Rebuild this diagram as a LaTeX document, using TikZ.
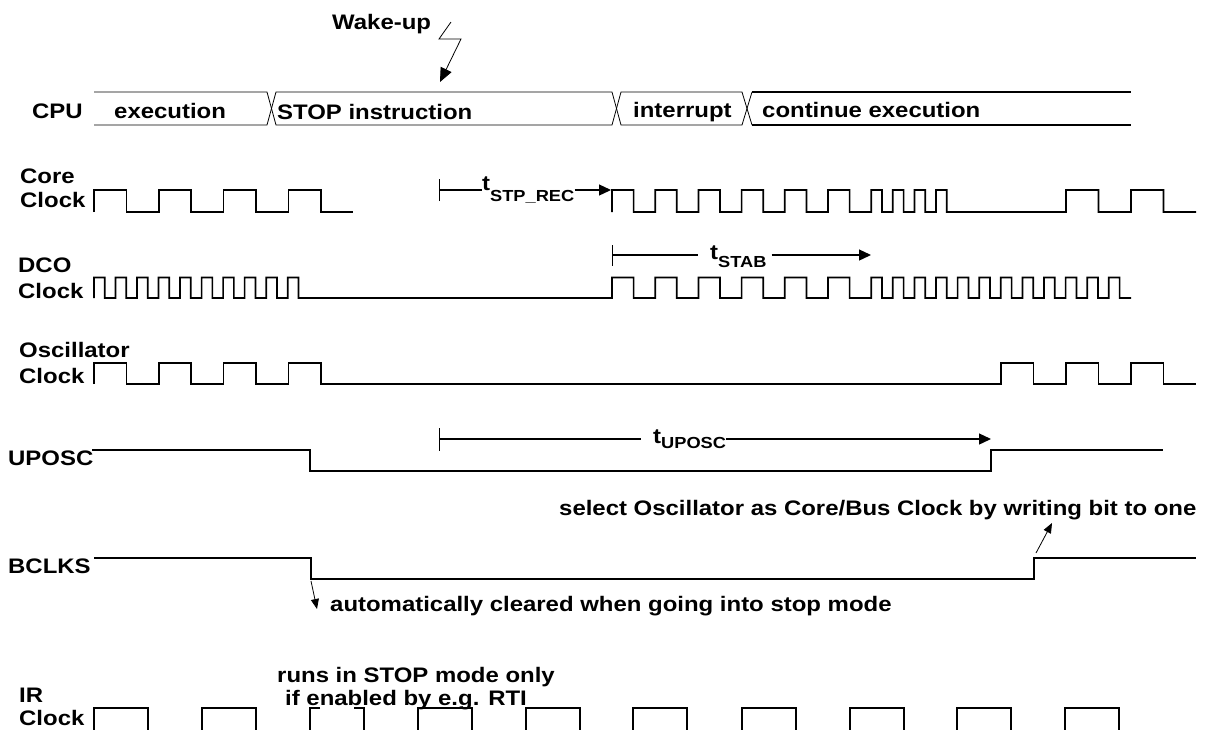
\documentclass[tikz,border=0pt]{standalone}
\usepackage{fontspec}
\setmainfont{Liberation Sans}[FakeStretch=1.14]
\usetikzlibrary{arrows.meta}
\newcommand\tsb[2]{\raisebox{-#1pt}{\fontsize{16}{16}\selectfont #2}}
\begin{document}
\begin{tikzpicture}[x=1pt,y=-1pt,
  lbl/.style={anchor=base west, inner sep=0pt, font=\fontsize{21}{24}\selectfont\bfseries},
  wave/.style={line width=1.7pt, line join=miter},
  bus/.style={line width=0.8pt},
  busthick/.style={line width=1.6pt},
  timing/.style={line width=1.3pt},
  endtri/.style={-{Triangle[length=12pt,width=11pt]}},
  smallarrow/.style={line width=0.8pt,-{Triangle[length=10pt,width=8pt]}}]
\useasboundingbox[fill=white] (0,0) rectangle (1226,729);

% ---------- Wake-up ----------
\node[lbl] (wake) at (332,29) {Wake-up};
\coordinate (wk1) at (451,22);
\coordinate (wk2) at (439,39);
\coordinate (wk3) at (461,39);
\coordinate (wk4) at (440,82);
\draw[line width=0.8pt,-{Triangle[length=14pt,width=12pt]}] (wk1) -- (wk2) -- (wk3) -- (wk4);

% ---------- CPU bus ----------
\node[lbl] (cpu) at (32,118) {CPU};
\draw[bus] (94,92) -- (267,92) -- (276,125) -- (612,125) -- (621,92) -- (742,92) -- (752,125);
\draw[bus] (94,125) -- (267,125) -- (276,92) -- (612,92) -- (621,125) -- (742,125) -- (752,92);
\draw[busthick] (752,92) -- (1131,92);
\draw[busthick] (752,125) -- (1131,125);
\node[lbl] (exe) at (114,118) {execution};
\node[lbl] (stop) at (277,119) {STOP instruction};
\node[lbl] (intr) at (633,117) {interrupt};
\node[lbl] (cont) at (762,117) {continue execution};

% ---------- Core Clock ----------
\node[lbl] (core1) at (20,183) {Core};
\node[lbl] (core2) at (20,207) {Clock};
\draw[wave] (94,212) foreach \i in {0,...,3} { -- ({94+64.8*\i},190) -- ({126.4+64.8*\i},190) -- ({126.4+64.8*\i},212) -- ({158.8+64.8*\i},212) };
\draw[wave] (612,212)
  foreach \i in {0,...,5} { -- ({612+43.2*\i},190) -- ({633.6+43.2*\i},190) -- ({633.6+43.2*\i},212) -- ({655.2+43.2*\i},212) }
  foreach \i in {0,...,3} { -- ({871.2+21.6*\i},190) -- ({882+21.6*\i},190) -- ({882+21.6*\i},212) -- ({892.8+21.6*\i},212) }
  -- (1066,212)
  foreach \i in {0,1} { -- ({1066+65*\i},190) -- ({1098.5+65*\i},190) -- ({1098.5+65*\i},212) -- ({1131+65*\i},212) };

% t_STP_REC
\coordinate (stpA) at (439,190);
\coordinate (stpB) at (611,190);
\node[lbl] (stpT) at (482,190) {t\tsb{11}{STP\_REC}};
\draw[timing,{Bar[width=22pt,line width=1.3pt]}-] (stpA) -- (stpT.west |- stpA);
\draw[timing,endtri] (stpT.east |- stpB) -- (stpB);

% ---------- DCO Clock ----------
\node[lbl] (dco1) at (18,272) {DCO};
\node[lbl] (dco2) at (18,298) {Clock};
\draw[wave] (94,298)
  foreach \i in {0,...,9} { -- ({94+21.52*\i},277.5) -- ({104.76+21.52*\i},277.5) -- ({104.76+21.52*\i},298) -- ({115.52+21.52*\i},298) }
  -- (612,298)
  foreach \i in {0,...,5} { -- ({612+43.2*\i},277.5) -- ({633.6+43.2*\i},277.5) -- ({633.6+43.2*\i},298) -- ({655.2+43.2*\i},298) }
  foreach \i in {0,...,11} { -- ({871.2+21.6*\i},277.5) -- ({882+21.6*\i},277.5) -- ({882+21.6*\i},298) -- ({892.8+21.6*\i},298) }
  -- (1131,298);

% t_STAB
\coordinate (stabA) at (612,255);
\coordinate (stabB) at (871,255);
\node[lbl] (stabT) at (710,259) {t\tsb{8}{STAB}};
\draw[timing,{Bar[width=21pt,line width=1.3pt]}-] (stabA) -- ([xshift=-12pt]stabT.west |- stabA);
\draw[timing,endtri] ([xshift=5pt]stabT.east |- stabB) -- (stabB);

% ---------- Oscillator Clock ----------
\node[lbl] (osc1) at (19,357) {Oscillator};
\node[lbl] (osc2) at (19,383) {Clock};
\draw[wave] (94,384)
  foreach \i in {0,...,3} { -- ({94+64.8*\i},363) -- ({126.4+64.8*\i},363) -- ({126.4+64.8*\i},384) -- ({158.8+64.8*\i},384) }
  -- (1001,384)
  foreach \i in {0,...,2} { -- ({1001+65*\i},363) -- ({1033.5+65*\i},363) -- ({1033.5+65*\i},384) -- ({1066+65*\i},384) };

% ---------- UPOSC ----------
\node[lbl] (uposc) at (8,465) {UPOSC};
\draw[wave] (92,450) -- (310,450) -- (310,471) -- (991,471) -- (991,450) -- (1163,450);
\coordinate (upA) at (439,439);
\coordinate (upB) at (991,439);
\node[lbl] (upT) at (653,443) {t\tsb{5}{UPOSC}};
\draw[timing,{Bar[width=23pt,line width=1.3pt]}-] (upA) -- ([xshift=-12pt]upT.west |- upA);
\draw[timing,endtri] (upT.east |- upB) -- (upB);

% ---------- BCLKS ----------
\draw[wave] (94,558) -- (311,558) -- (311,579) -- (1034,579) -- (1034,558) -- (1196,558);
\node[lbl] (bclks) at (8,573) {BCLKS};
\node[lbl] (sel) at (559,515) {select Oscillator as Core/Bus Clock by writing bit to one};
\node[lbl] (auto) at (330,611) {automatically cleared when going into stop mode};
\coordinate (selA) at (1036,553);
\coordinate (selB) at (1052,523);
\draw[smallarrow] (selA) -- (selB);
\coordinate (autoA) at (311,581);
\coordinate (autoB) at (317,609);
\draw[smallarrow] (autoA) -- (autoB);

% ---------- IR Clock ----------
\node[lbl] (ir1) at (19,702) {IR};
\node[lbl] (ir2) at (19,725) {Clock};
\node[lbl] (runs1) at (277,682) {runs in STOP mode only};
\node[lbl] (runs2) at (285,705) {if enabled by e.g. RTI};
\foreach \x in {94,202,418,526,633,742,850,957,1065} {
  \draw[wave] (\x,730) -- (\x,708) -- (\x+54,708) -- (\x+54,730);
}
\draw[wave] (320,708) -- (310,708) -- (310,730);
\draw[wave] (354,708) -- (364,708) -- (364,730);
\end{tikzpicture}
\end{document}
